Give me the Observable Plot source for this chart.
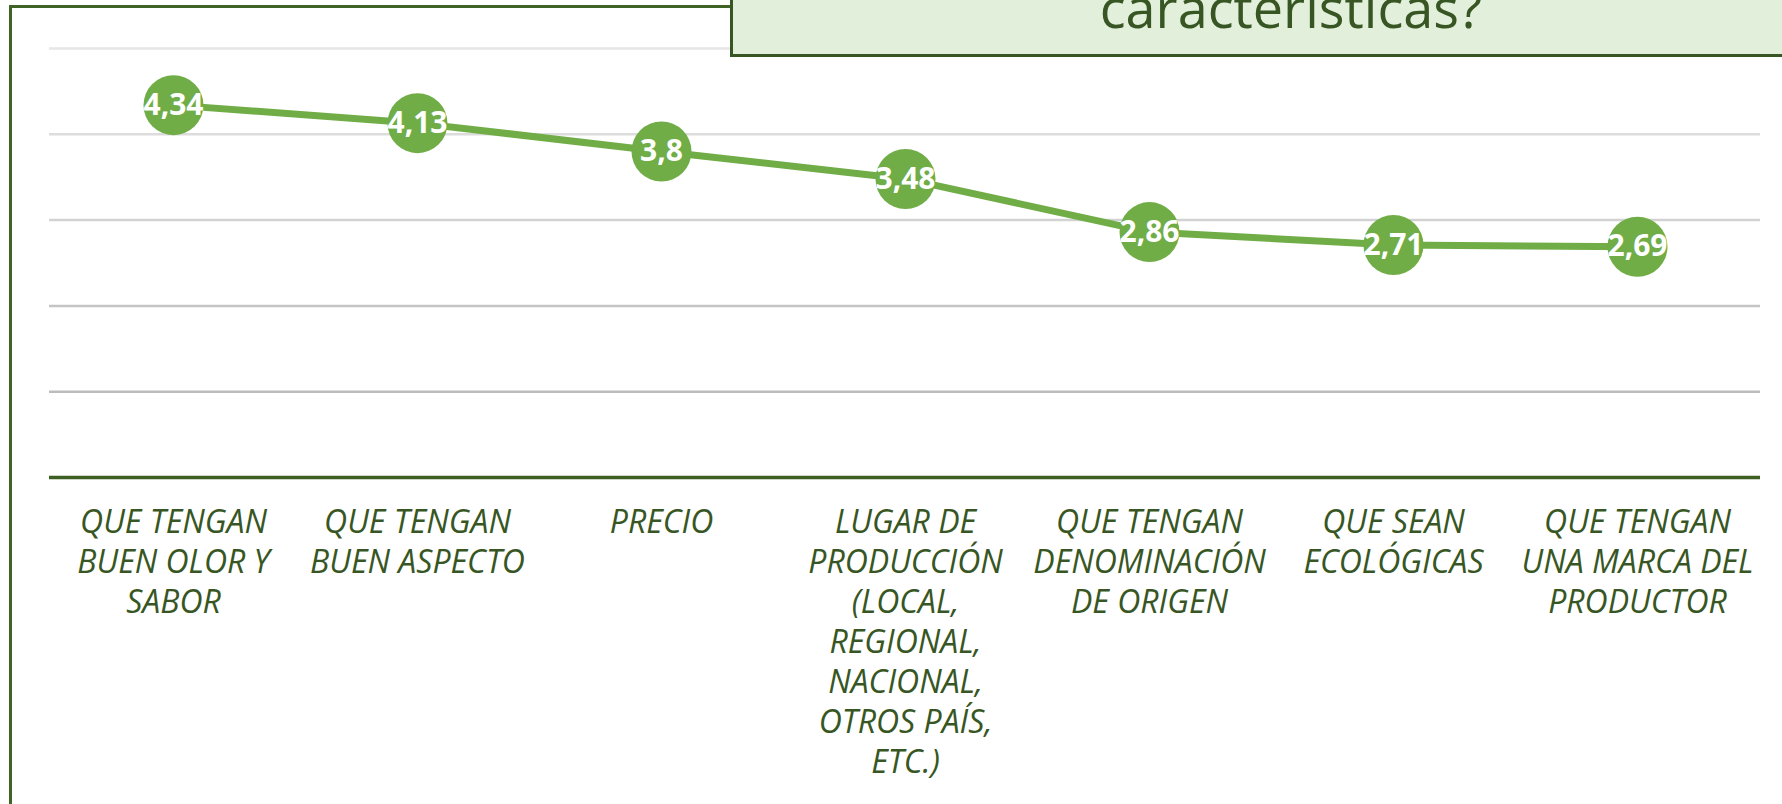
<!DOCTYPE html>
<html>
<head>
<meta charset="utf-8">
<script src="https://cdn.jsdelivr.net/npm/d3@7"></script>
<script src="https://cdn.jsdelivr.net/npm/@observablehq/plot@0.6"></script>
<style>
  html, body { margin: 0; padding: 0; background: #fff; }
  #wrap { position: relative; width: 1782px; height: 804px; overflow: hidden; background: #fff;
          font-family: "Open Sans", sans-serif; }
  #frame { position: absolute; left: 9px; top: 5px; width: 1900px; height: 1000px;
           border: 3px solid #3f6426; box-sizing: border-box; }
  #titlebox { position: absolute; left: 730px; top: -60px; width: 1200px; height: 117px;
              background: #e2efda; border: 3px solid #375623; box-sizing: border-box; }
  #title { position: absolute; left: 1091px; width: 400px; top: -23px; text-align: center;
           font-size: 54px; line-height: 60px; color: #375623; white-space: nowrap; }
  #chart { position: absolute; left: 0; top: 0; }
</style>
</head>
<body>
<div id="wrap">
  <div id="frame"></div>
  <div id="chart"></div>
  <div id="titlebox"></div>
  <div id="title">características?</div>
</div>
<script>
const categories = [
  "QUE TENGAN BUEN OLOR Y SABOR",
  "QUE TENGAN BUEN ASPECTO",
  "PRECIO",
  "LUGAR DE PRODUCCIÓN (LOCAL, REGIONAL, NACIONAL, OTROS PAÍS, ETC.)",
  "QUE TENGAN DENOMINACIÓN DE ORIGEN",
  "QUE SEAN ECOLÓGICAS",
  "QUE TENGAN UNA MARCA DEL PRODUCTOR"
];
const tickLabels = [
  "QUE TENGAN\nBUEN OLOR Y\nSABOR",
  "QUE TENGAN\nBUEN ASPECTO",
  "PRECIO",
  "LUGAR DE\nPRODUCCIÓN\n(LOCAL,\nREGIONAL,\nNACIONAL,\nOTROS PAÍS,\nETC.)",
  "QUE TENGAN\nDENOMINACIÓN\nDE ORIGEN",
  "QUE SEAN\nECOLÓGICAS",
  "QUE TENGAN\nUNA MARCA DEL\nPRODUCTOR"
];
const values = [4.34, 4.13, 3.8, 3.48, 2.86, 2.71, 2.69];
const yGridTicks = [1, 2, 3, 4, 5];

const data = categories.map((c, i) => ({cat: c, value: values[i], label: String(values[i]).replace(".", ",")}));
const tickMap = new Map(categories.map((c, i) => [c, tickLabels[i]]));
const gridColor = {1: "#bcbcbc", 2: "#c4c4c4", 3: "#d2d2d2", 4: "#dcdcdc", 5: "#e6e6e6"};

const font = '"Open Sans", sans-serif';

const chart = Plot.plot({
  width: 1782,
  height: 804,
  marginLeft: 49,
  marginRight: 22,
  marginTop: 48,
  marginBottom: 327,
  style: {fontFamily: font, background: "transparent", overflow: "visible"},
  x: {type: "point", domain: categories, padding: 0.5, axis: null},
  y: {domain: [0, 5], axis: null},
  marks: [
    Plot.ruleY(yGridTicks, {y: d => d, stroke: d => gridColor[d], strokeWidth: 2.5}),
    Plot.ruleY([0], {stroke: "#3d5f22", strokeWidth: 3.3}),
    Plot.axisX({
      tickSize: 0,
      tickPadding: 27,
      tickFormat: d => tickMap.get(d),
      label: null,
      fontSize: 32,
      lineHeight: 1.25,
      fontStyle: "italic",
      color: "#375623",
      fill: "#375623"
    }),
    Plot.line(data, {x: "cat", y: "value", stroke: "#70ad47", strokeWidth: 7}),
    Plot.dot(data, {x: "cat", y: "value", r: 30, fill: "#70ad47", stroke: "none"}),
    Plot.text(data, {x: "cat", y: "value", text: "label", fill: "white", fontSize: 30, fontWeight: "bold"})
  ]
});
document.getElementById("chart").appendChild(chart);
</script>
</body>
</html>
